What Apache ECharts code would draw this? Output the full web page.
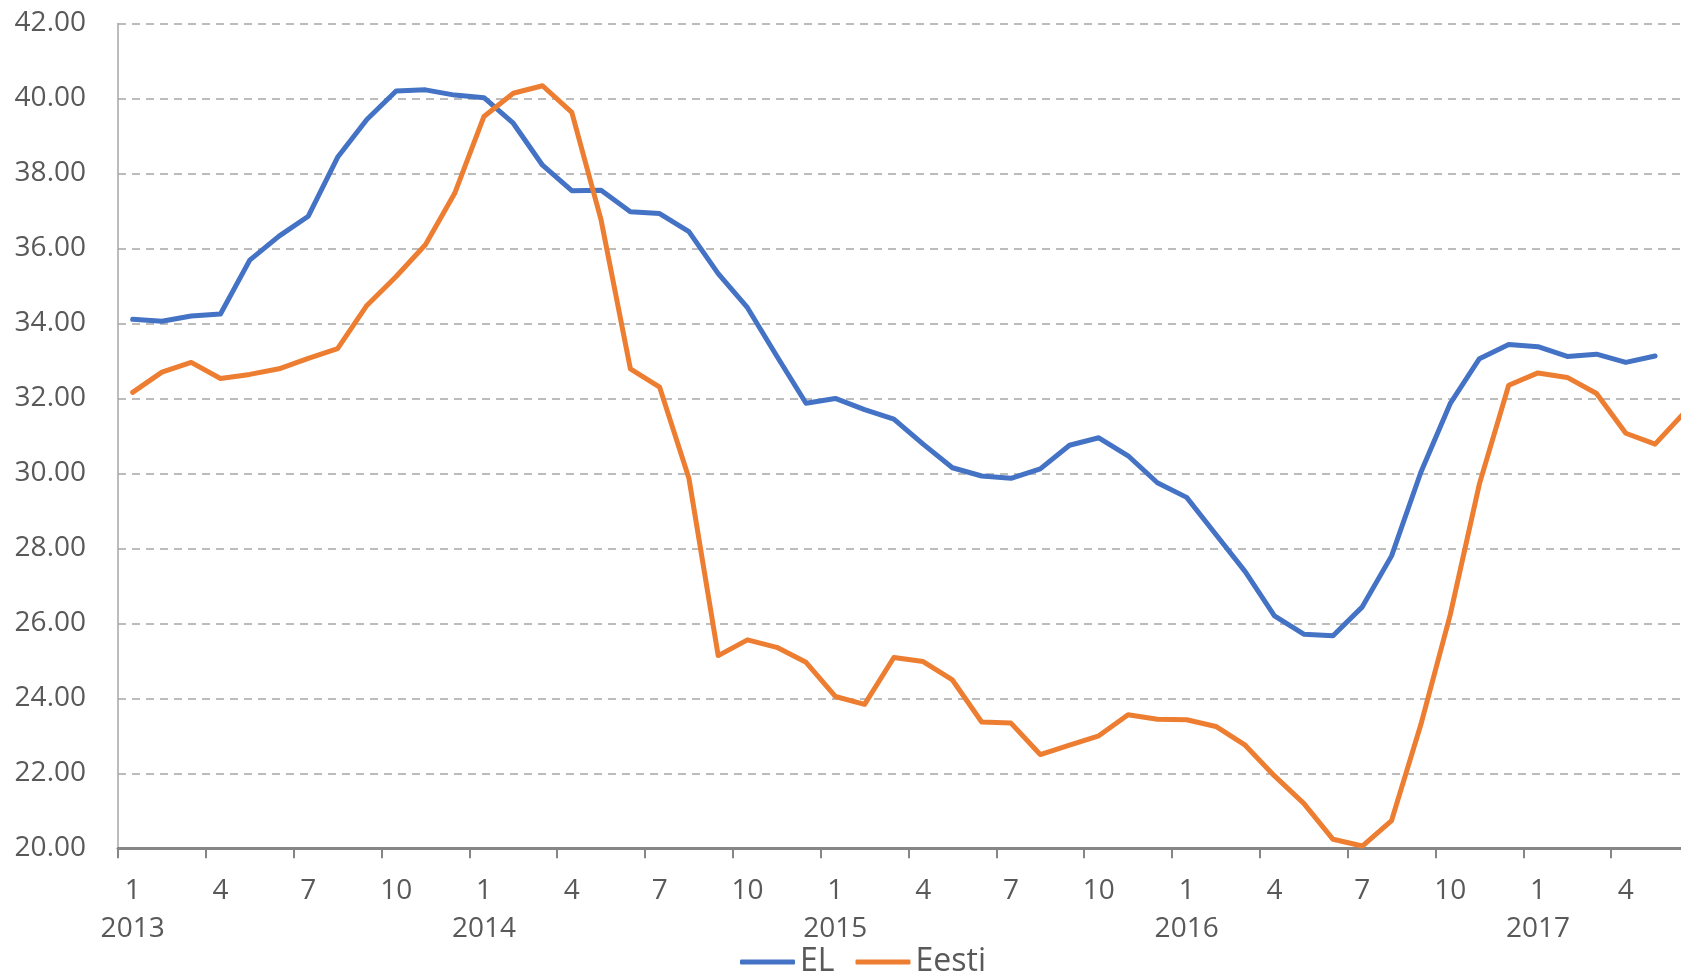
<!DOCTYPE html>
<html>
<head>
<meta charset="utf-8">
<script src="https://cdn.jsdelivr.net/npm/echarts@6/dist/echarts.min.js"></script>
<style>
html,body{margin:0;padding:0;background:#fff;overflow:hidden;width:1681px;height:976px;}
#chart{width:1699px;height:976px;}
</style>
</head>
<body>
<div id="chart"></div>
<script>
const years = [2013, 2014, 2015, 2016, 2017];
const months = [1,2,3,4,5,6,7,8,9,10,11,12];
const lastYearMonths = 6;

const EL = [34.11,34.06,34.2,34.25,35.69,36.33,36.86,38.43,39.44,40.2,40.23,40.09,
  40.02,39.34,38.22,37.54,37.55,36.98,36.93,36.45,35.33,34.42,33.13,31.87,
  32.0,31.7,31.45,30.78,30.15,29.93,29.87,30.12,30.75,30.95,30.47,29.75,
  29.36,28.37,27.38,26.2,25.71,25.67,26.44,27.8,30.03,31.86,33.06,33.44,
  33.38,33.12,33.18,32.96,33.13,null];

const Eesti = [32.16,32.7,32.96,32.53,32.64,32.79,33.07,33.33,34.48,35.25,36.1,37.47,
  39.52,40.14,40.34,39.63,36.76,32.79,32.3,29.87,25.14,25.56,25.36,24.96,
  24.05,23.84,25.09,24.98,24.49,23.37,23.34,22.5,22.75,23.0,23.56,23.44,
  23.43,23.25,22.75,21.93,21.2,20.24,20.06,20.74,23.3,26.22,29.72,32.35,
  32.68,32.56,32.13,31.07,30.78,31.62];

const yMin = 20, yMax = 42, yStep = 2;

const categories = [];
years.forEach((y, yi) => {
  const n = yi === years.length - 1 ? lastYearMonths : months.length;
  for (let k = 0; k < n; k++) categories.push(y + '-' + months[k]);
});

const FONT = '"Open Sans", "Noto Sans", sans-serif';
const chart = echarts.init(document.getElementById('chart'), null, {renderer: 'canvas'});
chart.setOption({
  animation: false,
  backgroundColor: '#ffffff',
  grid: {left: 118, right: 0, top: 23.5, bottom: 127.7, containLabel: false},
  legend: {
    left: 740, top: 946, padding: 0,
    itemWidth: 55, itemHeight: 5, itemGap: 21,
    icon: 'roundRect',
    textStyle: {fontFamily: FONT, fontSize: 32, color: '#595959'},
    data: ['EL', 'Eesti']
  },
  xAxis: {
    type: 'category',
    data: categories,
    boundaryGap: true,
    axisLine: {show: true, lineStyle: {color: '#868686', width: 3}},
    axisTick: {show: true, interval: 2, length: 10, lineStyle: {color: '#868686', width: 2}},
    axisLabel: {
      interval: 2, margin: 24,
      fontFamily: FONT, fontSize: 28, color: '#595959', lineHeight: 38,
      formatter: function (v) {
        const p = v.split('-');
        return p[1] === '1' ? p[1] + '\n' + p[0] : p[1];
      }
    },
    splitLine: {show: false}
  },
  yAxis: {
    type: 'value',
    min: yMin, max: yMax, interval: yStep,
    axisLine: {show: true, lineStyle: {color: '#a6a6a6', width: 1.5}},
    axisTick: {show: false},
    axisLabel: {
      margin: 32, fontFamily: FONT, fontSize: 28, color: '#595959',
      formatter: v => v.toFixed(2)
    },
    splitLine: {show: true, lineStyle: {color: '#a6a6a6', width: 1.7, type: [8, 6]}}
  },
  series: [
    {
      name: 'EL', type: 'line', data: EL,
      showSymbol: false, symbol: 'none', connectNulls: false,
      color: '#4472C4',
      lineStyle: {color: '#4472C4', width: 5, cap: 'round', join: 'round'}
    },
    {
      name: 'Eesti', type: 'line', data: Eesti,
      showSymbol: false, symbol: 'none',
      color: '#ED7D31',
      lineStyle: {color: '#ED7D31', width: 5, cap: 'round', join: 'round'}
    }
  ]
});
</script>
</body>
</html>
